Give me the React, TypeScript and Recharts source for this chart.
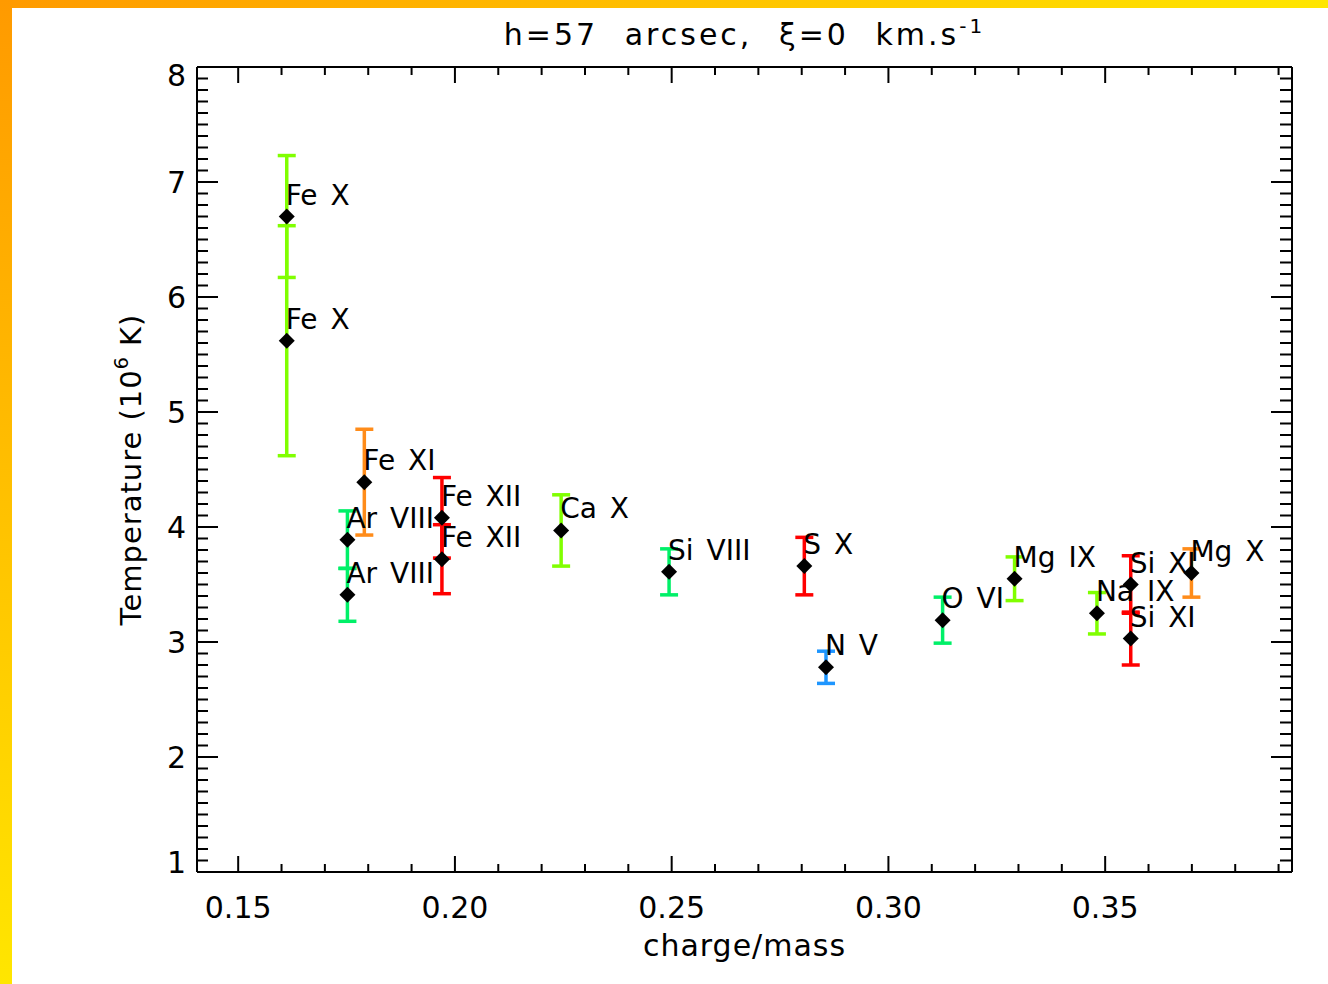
import { ScatterChart, Scatter, XAxis, YAxis, ErrorBar, Label } from "recharts";

// ions
const ions = ['Fe X', 'Fe X', 'Fe XI', 'Ar VIII', 'Ar VIII', 'Fe XII', 'Fe XII', 'Ca X', 'Si VIII', 'S X', 'N V', 'O VI', 'Mg IX', 'Na IX', 'Si XI', 'Si XI', 'Mg X'];
const chargeMass = [0.1612, 0.1612, 0.1791, 0.1752, 0.1752, 0.1970, 0.1970, 0.2245, 0.2494, 0.2806, 0.2856, 0.3125, 0.3291, 0.3481, 0.3559, 0.3559, 0.3699];
const temperature = [6.70, 5.62, 4.39, 3.89, 3.41, 4.08, 3.72, 3.97, 3.61, 3.66, 2.78, 3.19, 3.55, 3.25, 3.50, 3.03, 3.60];
const tempError = [0.53, 1.00, 0.46, 0.25, 0.23, 0.35, 0.30, 0.31, 0.20, 0.25, 0.14, 0.20, 0.19, 0.18, 0.25, 0.23, 0.21];
const ionColor = ['#80ff00', '#80ff00', '#ff8c1a', '#00f068', '#00f068', '#ff0000', '#ff0000', '#80ff00', '#00f068', '#ff0000', '#1e96ff', '#00f068', '#80ff00', '#80ff00', '#ff0000', '#ff0000', '#ff8c1a'];

const xDomain = [0.1405, 0.3931];
const yDomain = [1, 8];
const xTicks = Array.from({ length: 25 }, (_, i) => Math.round((0.15 + i * 0.01) * 100) / 100);
const yTicks = Array.from({ length: 71 }, (_, i) => Math.round((1 + i * 0.1) * 10) / 10);

const FONT = '"DejaVu Sans", sans-serif';

const rows = ions.map((ion, i) => ({
  ion,
  q: chargeMass[i],
  t: temperature[i],
  err: tempError[i],
  color: ionColor[i],
}));
const colorGroups = Array.from(new Set(ionColor));

const isMajorX = (v: number) => Math.abs(v * 20 - Math.round(v * 20)) < 1e-6;
const isMajorY = (v: number) => Math.abs(v - Math.round(v)) < 1e-6;

const BottomTick = ({ x, y, payload }: any) => {
  const major = isMajorX(payload.value);
  return (
    <g>
      <line x1={x} y1={y} x2={x} y2={y - (major ? 16 : 8)} stroke="#000" strokeWidth={2} />
      {major && (
        <text x={x} y={y + 46} textAnchor="middle" fontSize={30} fontFamily={FONT} fill="#000">
          {payload.value.toFixed(2)}
        </text>
      )}
    </g>
  );
};

const TopTick = ({ x, y, payload }: any) => {
  const major = isMajorX(payload.value);
  return <line x1={x} y1={y} x2={x} y2={y + (major ? 16 : 8)} stroke="#000" strokeWidth={2} />;
};

const LeftTick = ({ x, y, payload }: any) => {
  const v = payload.value;
  const major = isMajorY(v);
  // IDL nudges the end labels inside the axis range
  const nudge = v === yDomain[1] ? 8 : v === yDomain[0] ? -10 : 0;
  return (
    <g>
      <line x1={x} y1={y} x2={x + (major ? 21 : 11)} y2={y} stroke="#000" strokeWidth={2} />
      {major && (
        <text x={x - 11} y={y + 11 + nudge} textAnchor="end" fontSize={30} fontFamily={FONT} fill="#000">
          {Math.round(v)}
        </text>
      )}
    </g>
  );
};

const RightTick = ({ x, y, payload }: any) => {
  const major = isMajorY(payload.value);
  return <line x1={x} y1={y} x2={x - (major ? 21 : 12)} y2={y} stroke="#000" strokeWidth={2} />;
};

const Marker = (props: any) => {
  const { cx, cy, payload } = props;
  return (
    <g>
      <polygon points={`${cx - 8},${cy} ${cx},${cy - 8} ${cx + 8},${cy} ${cx},${cy + 8}`} fill="#000" />
      <text x={cx - 1} y={cy - 12} fontSize={28} fontFamily={FONT} fill="#000" style={{ wordSpacing: 4 }}>
        {payload.ion}
      </text>
    </g>
  );
};

const Nothing = () => <g />;

export default function App() {
  return (
    <div style={{ position: 'absolute', left: 0, top: 0, width: 1328, height: 984, background: '#fff', overflow: 'hidden' }}>
      <div style={{ position: 'absolute', left: 0, top: 0, width: 1328, height: 8, background: 'linear-gradient(to right, #ff9a00, #ffe600)' }} />
      <div style={{ position: 'absolute', left: 0, top: 0, width: 12, height: 984, background: 'linear-gradient(to bottom, #ff9a00, #ffe600)' }} />
      <div style={{ position: 'absolute', left: 0, top: 0 }}>
        <ScatterChart width={1328} height={984} margin={{ top: 66, right: 35, bottom: 0, left: 63 }}>
          <XAxis
            xAxisId="top"
            dataKey="q"
            orientation="top"
            type="number"
            domain={xDomain}
            allowDataOverflow
            ticks={xTicks}
            interval={0}
            height={1}
            tickSize={0}
            tickMargin={0}
            tick={<TopTick />}
            tickLine={false}
            axisLine={{ stroke: '#000', strokeWidth: 2 }}
          >
            <Label
              content={({ viewBox }: any) => (
                <text x={viewBox.x + viewBox.width / 2} y={67 - 22} textAnchor="middle" fontSize={30} fontFamily={FONT} fill="#000" style={{ letterSpacing: 3, wordSpacing: 14 }}>
                  h=57 arcsec, ξ=0 km.s<tspan dy={-12} fontSize={20}>-1</tspan>
                </text>
              )}
            />
          </XAxis>
          <XAxis
            xAxisId="x"
            dataKey="q"
            type="number"
            domain={xDomain}
            allowDataOverflow
            ticks={xTicks}
            interval={0}
            height={112}
            tickSize={0}
            tickMargin={0}
            tick={<BottomTick />}
            tickLine={false}
            axisLine={{ stroke: '#000', strokeWidth: 2 }}
          >
            <Label
              content={({ viewBox }: any) => (
                <text x={viewBox.x + viewBox.width / 2} y={viewBox.y + 84} textAnchor="middle" fontSize={30} fontFamily={FONT} fill="#000" style={{ letterSpacing: 1 }}>
                  charge/mass
                </text>
              )}
            />
          </XAxis>
          <YAxis
            yAxisId="y"
            dataKey="t"
            type="number"
            domain={yDomain}
            allowDataOverflow
            ticks={yTicks}
            interval={0}
            width={134}
            tickSize={0}
            tickMargin={0}
            tick={<LeftTick />}
            tickLine={false}
            axisLine={{ stroke: '#000', strokeWidth: 2 }}
          >
            <Label
              content={({ viewBox }: any) => {
                const cy = viewBox.y + viewBox.height / 2;
                return (
                  <text x={131} y={cy} transform={`rotate(-90, 131, ${cy})`} textAnchor="middle" dominantBaseline="central" fontSize={29} fontFamily={FONT} fill="#000" style={{ letterSpacing: 1 }}>
                    Temperature (10<tspan dy={-10} fontSize={19}>6</tspan><tspan dy={10}> K)</tspan>
                  </text>
                );
              }}
            />
          </YAxis>
          <YAxis
            yAxisId="r"
            dataKey="t"
            orientation="right"
            type="number"
            domain={yDomain}
            allowDataOverflow
            ticks={yTicks}
            interval={0}
            width={1}
            tickSize={0}
            tickMargin={0}
            tick={<RightTick />}
            tickLine={false}
            axisLine={{ stroke: '#000', strokeWidth: 2 }}
          />
          {/* invisible series so the mirrored top/right frame axes get drawn */}
          <Scatter xAxisId="top" yAxisId="r" data={rows} shape={Nothing} isAnimationActive={false} />
          {colorGroups.map((c) => (
            <Scatter
              key={c}
              xAxisId="x"
              yAxisId="y"
              data={rows.filter((r) => r.color === c)}
              shape={Marker}
              isAnimationActive={false}
            >
              <ErrorBar dataKey="err" direction="y" width={9} stroke={c} strokeWidth={3.5} isAnimationActive={false} />
            </Scatter>
          ))}
        </ScatterChart>
      </div>
    </div>
  );
}
